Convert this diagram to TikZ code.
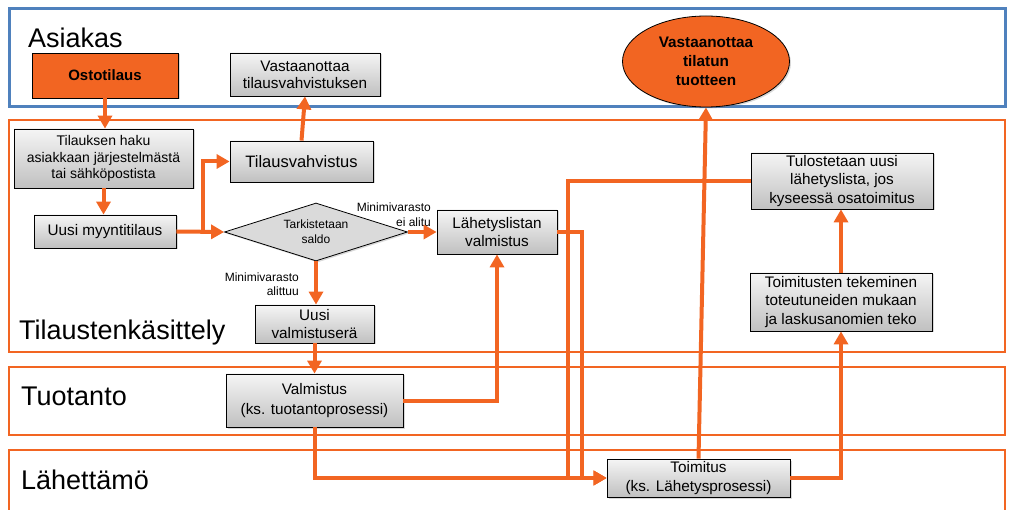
\documentclass[tikz,border=0pt]{standalone}
\usepackage{fontspec}
\setmainfont{Liberation Sans}
\usetikzlibrary{arrows.meta,shapes.geometric,shadows}

\definecolor{flowor}{RGB}{242,101,34}
\definecolor{laneblue}{RGB}{79,129,189}
\definecolor{boxtop}{RGB}{245,245,245}
\definecolor{boxbot}{RGB}{192,192,192}
\definecolor{diafill}{RGB}{218,218,218}

\tikzset{
  lane/.style={draw=flowor, line width=2.8pt},
  lanetitle/.style={anchor=base west, inner sep=0pt, font=\fontsize{27}{30}\selectfont},
  box/.style={draw=black, line width=0.8pt, top color=boxtop, bottom color=boxbot,
    align=center, inner sep=0pt,
    drop shadow={shadow xshift=1.5pt, shadow yshift=-1.5pt, opacity=0.3},
    font=\fontsize{15.3}{18.5}\selectfont},
  hotbox/.style={draw=black, line width=0.8pt, fill=flowor, align=center, inner sep=0pt,
    drop shadow={shadow xshift=1.5pt, shadow yshift=-1.5pt, opacity=0.3},
    font=\bfseries\fontsize{15}{19}\selectfont},
  decision/.style={shape=diamond, aspect=3.15, draw=black, line width=0.8pt, fill=diafill,
    align=center, inner sep=0pt,
    drop shadow={shadow xshift=1.5pt, shadow yshift=-1.5pt, opacity=0.3},
    font=\fontsize{12}{15}\selectfont},
  branchlabel/.style={anchor=east, align=right, inner sep=0pt, font=\fontsize{12}{15}\selectfont},
  flow/.style={draw=flowor, line width=4pt, -{Triangle[length=13pt,width=14pt]}},
  flowline/.style={draw=flowor, line width=4pt},
}

\begin{document}
\begin{tikzpicture}[x=1pt,y=-1pt]
\useasboundingbox (0,0) rectangle (1009,510);

% swimlanes
\draw[draw=laneblue, line width=3pt] (9,9) rectangle (1005,107);
\draw[lane] (9,120) rectangle (1005,352);
\draw[lane] (9,367) rectangle (1005,435);
\draw[lane] (9,515) -- (9,450) -- (1005,450) -- (1005,515);

\node[lanetitle] (tAsiakas) at (28,48) {Asiakas};
\node[lanetitle] (tTilaus) at (19,340) {Tilaustenkäsittely};
\node[lanetitle] (tTuotanto) at (21,405) {Tuotanto};
\node[lanetitle] (tLahettamo) at (21,489) {Lähettämö};

% process steps
\node[hotbox, minimum width=146pt, minimum height=45pt] (osto) at (105,75.5) {Ostotilaus};
\node[box, minimum width=150pt, minimum height=43pt, font=\fontsize{15.3}{17}\selectfont] (vt) at (305,74.5) {Vastaanottaa\\tilausvahvistuksen};
\node[shape=ellipse, hotbox, minimum width=167pt, minimum height=91pt, font=\bfseries\fontsize{15.3}{19}\selectfont] (ell) at (706,61.5) {Vastaanottaa\\tilatun\\tuotteen};

\node[box, minimum width=179pt, minimum height=59pt, font=\fontsize{14}{16.7}\selectfont] (haku) at (103.5,158.5) {Tilauksen haku\\asiakkaan järjestelmästä\\tai sähköpostista};
\node[box, minimum width=143pt, minimum height=41pt, font=\fontsize{16.5}{19}\selectfont] (tv) at (301.5,161.5) {Tilausvahvistus};
\node[box, minimum width=142pt, minimum height=33pt] (umt) at (105,231.5) {Uusi myyntitilaus};
\node[decision, minimum width=183pt, minimum height=58pt] (dia) at (316,232) {Tarkistetaan\\saldo};
\node[box, minimum width=120pt, minimum height=44pt] (lv) at (497,232) {Lähetyslistan\\valmistus};
\node[box, minimum width=119pt, minimum height=38pt] (uvs) at (314.5,324) {Uusi\\valmistuserä};
\node[box, minimum width=182pt, minimum height=56pt] (tul) at (842,181) {Tulostetaan uusi\\lähetyslista, jos\\kyseessä osatoimitus};
\node[box, minimum width=182pt, minimum height=58pt] (tt) at (841,302) {Toimitusten tekeminen\\toteutuneiden mukaan\\ja laskusanomien teko};

\node[box, minimum width=177pt, minimum height=53pt, font=\fontsize{15.3}{20}\selectfont] (valm) at (314.5,400.5) {Valmistus\\(ks. tuotantoprosessi)};
\node[box, minimum width=183pt, minimum height=38pt, font=\fontsize{15.3}{19}\selectfont] (toim) at (698.5,478) {Toimitus\\(ks. Lähetysprosessi)};

% branch labels of the stock check
\node[branchlabel] (lblOk) at (431,215) {Minimivarasto\\ei alitu};
\node[branchlabel, font=\fontsize{12}{14}\selectfont] (lblLow) at (299,284) {Minimivarasto\\alittuu};

% junction points
\coordinate (split) at (203,231.5);
\coordinate (listdown) at (568,181);

% connectors
\draw[flow] (osto.south) -- (osto.south |- haku.north);
\draw[flow] (haku.south) -- (haku.south |- umt.north);
\draw[flow] (umt.east) -- (dia.west);
\draw[flow] (split) |- (tv.west);
\draw[flow] (tv.north) -- (vt.south);
\draw[flow] (dia.east) -- (lv.west);
\draw[flow] (dia.south) -- (dia.south |- uvs.north);
\draw[flow] (uvs.south) -- (uvs.south |- valm.north);
\draw[flow] (valm.east) -| (lv.south);
\draw[flow] (valm.south) |- (toim.west);
\draw[flow] (lv.east) -- ++(25,0) |- (toim.west);
\draw[flow] (tul.west) -- (listdown) |- (toim.west);
\draw[flow] (toim.north) -- (ell.south);
\draw[flow] (toim.east) -| (tt.south);
\draw[flow] (tt.north) -- (tt.north |- tul.south);
\end{tikzpicture}
\end{document}
